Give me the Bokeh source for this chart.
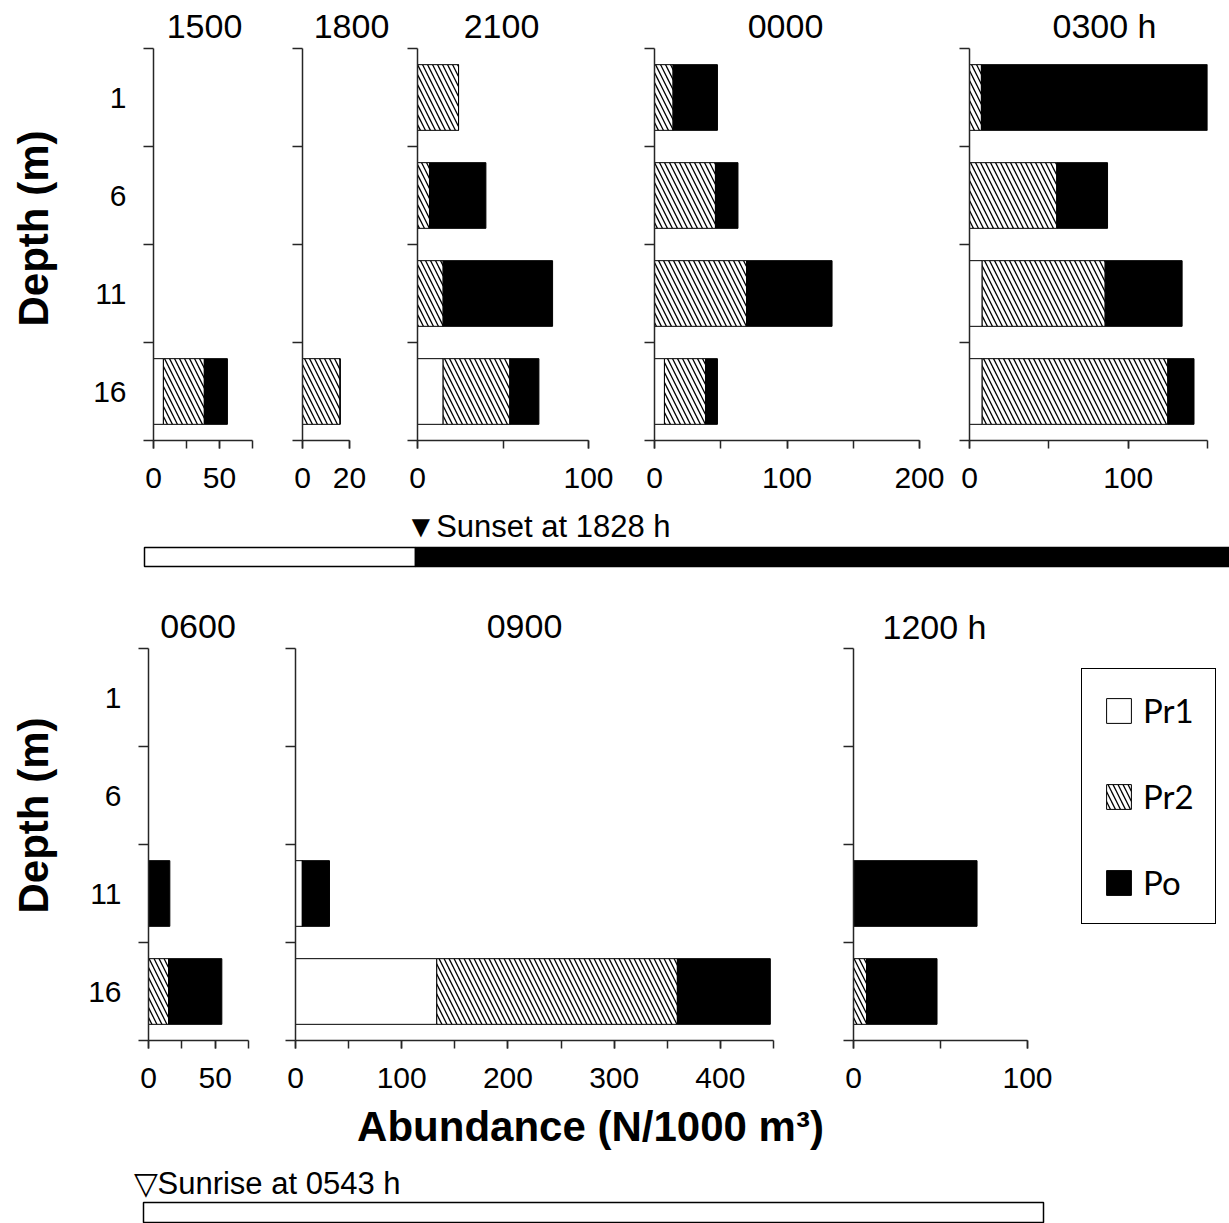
import numpy as np
from bokeh.plotting import figure
from bokeh.models import Range1d, FixedTicker, ColumnDataSource, Legend, LegendItem
from bokeh.layouts import row, column
from bokeh.embed import file_html
from bokeh.resources import INLINE
from bokeh.core.properties import value

# ---------------- data (abundance, N/1000 m^3), depth order 1, 6, 11, 16 m
depths = ["1", "6", "11", "16"]
species = ["Pr1", "Pr2", "Po"]

pr1_1500 = [0, 0, 0, 7.5]
pr2_1500 = [0, 0, 0, 31]
po_1500 = [0, 0, 0, 17.5]

pr1_1800 = [0, 0, 0, 0]
pr2_1800 = [0, 0, 0, 16]
po_1800 = [0, 0, 0, 0]

pr1_2100 = [0, 0, 0, 15]
pr2_2100 = [24, 7, 15, 39]
po_2100 = [0, 33, 64, 17]

pr1_0000 = [0, 0, 0, 7.5]
pr2_0000 = [14, 46, 69.5, 31]
po_0000 = [33.5, 17, 64.5, 9]

pr1_0300 = [0, 0, 8, 8]
pr2_0300 = [7.5, 55, 77.5, 117]
po_0300 = [142.5, 32, 48.5, 16.5]

pr1_0600 = [0, 0, 0, 0]
pr2_0600 = [0, 0, 0, 15]
po_0600 = [0, 0, 16, 40]

pr1_0900 = [0, 0, 6.5, 133]
pr2_0900 = [0, 0, 0, 226.5]
po_0900 = [0, 0, 25.5, 87.5]

pr1_1200 = [0, 0, 0, 0]
pr2_1200 = [0, 0, 0, 7.5]
po_1200 = [0, 0, 71, 40.5]

titles_top = ["1500", "1800", "2100", "0000", "0300 h"]
titles_bottom = ["0600", "0900", "1200 h"]

# labelled ticks and all tick marks per panel
xlab_1500, xtk_1500 = [0, 50], [0, 25, 50, 75]
xlab_1800, xtk_1800 = [0, 20], [0, 20]
xlab_2100, xtk_2100 = [0, 100], [0, 50, 100]
xlab_0000, xtk_0000 = [0, 100, 200], [0, 50, 100, 150, 200]
xlab_0300, xtk_0300 = [0, 100], [0, 50, 100, 150]
xlab_0600, xtk_0600 = [0, 50], [0, 25, 50, 75]
xlab_0900, xtk_0900 = [0, 100, 200, 300, 400], [0, 50, 100, 150, 200, 250, 300, 350, 400, 450]
xlab_1200, xtk_1200 = [0, 100], [0, 50, 100]

FONT = "Liberation Sans"
AX = "#262626"
W = 1229
MID = 0.34  # distance from text middle to its baseline, as a fraction of the font size

STYLE = [dict(fill_color="white"),
         dict(fill_color="white", hatch_pattern="\\", hatch_color="black", hatch_scale=10, hatch_weight=1.3),
         dict(fill_color="black")]


def strip(width, height, y0, y1, tb=0, bb=0):
    """A plain drawing area whose data coordinates are page pixels (frame spans y0..y1)."""
    p = figure(width=width, height=height, x_range=Range1d(0, width), y_range=Range1d(y1, y0),
               x_axis_type=None, y_axis_type=None, min_border=0, min_border_top=tb, min_border_bottom=bb,
               output_backend="svg", toolbar_location=None)
    p.outline_line_color = None
    return p


def put_text(p, x, y_base, text, size, bold=False, align="center", angle=0.0):
    y = y_base - MID * size if angle == 0 else y_base
    p.text(x=[x], y=[y], text=[text], angle=angle,
           text_font=value(FONT), text_font_size=f"{size}px",
           text_font_style="bold" if bold else "normal",
           text_align=align, text_baseline="middle", text_color="black")


def make_panel(pr1, pr2, po, xlab, xtk, fig_w, fig_h, lb, rb, tb, bb, first=False, frame_px=None, axis_px=None):
    xmax = xtk[-1]
    xend = xmax if frame_px is None else xmax * frame_px / axis_px
    p = figure(width=fig_w, height=fig_h, x_range=Range1d(0, xend), y_range=Range1d(4, 0),
               min_border_left=lb, min_border_right=rb, min_border_top=tb, min_border_bottom=bb,
               output_backend="svg", toolbar_location=None)
    p.xgrid.visible = False
    p.ygrid.visible = False
    p.outline_line_color = None

    yc = np.arange(4) + 0.5
    a = np.array(pr1, float)
    b = np.array(pr2, float)
    c = np.array(po, float)
    bounds = [(np.zeros(4), a), (a, a + b), (a + b, a + b + c)]
    rends = []
    for (left, right), st in zip(bounds, STYLE):
        src = ColumnDataSource(dict(y=yc, left=left, right=right))
        rends.append(p.hbar(y="y", left="left", right="right", height=0.67, source=src,
                            line_color="black", line_width=1, **st))

    xa = p.xaxis[0]
    xa.ticker = FixedTicker(ticks=xlab, minor_ticks=xtk)
    xa.bounds = (0, xmax)
    ya = p.yaxis[0]
    ya.ticker = FixedTicker(ticks=list(yc) if first else [], minor_ticks=[0, 1, 2, 3, 4])
    ya.major_label_overrides = {float(v): d for v, d in zip(yc, depths)}
    for ax in (xa, ya):
        ax.axis_line_color = AX
        ax.axis_line_width = 1.5
        ax.major_tick_line_color = AX
        ax.major_tick_line_width = 1.5
        ax.minor_tick_line_color = AX
        ax.minor_tick_line_width = 1.5
        ax.major_label_text_font = FONT
        ax.major_label_text_font_size = "30px"
        ax.major_label_text_color = "black"
        ax.major_tick_in = 0
        ax.minor_tick_in = 0
    xa.major_tick_out = 8
    xa.minor_tick_out = 8
    xa.major_label_standoff = 19
    ya.major_tick_out = 0
    ya.minor_tick_out = 10
    ya.major_label_standoff = 17
    return p, rends


# ---------------- titles above the top row (page y 0..46)
t_top = strip(W, 46, 0, 46)
for t, x in zip(titles_top, [204, 351, 501, 785, 1104]):
    put_text(t_top, x, 37.2, t, 34)

# ---------------- top row (page y 46..500, frames 48..440)
TH, TT, TB = 454, 2, 60
d_top = strip(60, TH, 48, 440, TT, TB)
put_text(d_top, 33, 228, "Depth (m)", 42, bold=True, angle=np.pi / 2)
pA, _ = make_panel(pr1_1500, pr2_1500, po_1500, xlab_1500, xtk_1500, 210, TH, 93, 18, TT, TB, first=True)
pB, _ = make_panel(pr1_1800, pr2_1800, po_1800, xlab_1800, xtk_1800, 120, TH, 32, 41, TT, TB)
pC, _ = make_panel(pr1_2100, pr2_2100, po_2100, xlab_2100, xtk_2100, 238, TH, 27, 40, TT, TB)
pD, _ = make_panel(pr1_0000, pr2_0000, po_0000, xlab_0000, xtk_0000, 316, TH, 26, 25, TT, TB)
pE, _ = make_panel(pr1_0300, pr2_0300, po_0300, xlab_0300, xtk_0300, 285, TH, 25, 22, TT, TB)

# ---------------- sunset band (page y 500..600)
mid = strip(W, 100, 500, 600)
mid.quad(left=[144, 415], right=[415, W], top=[547, 547], bottom=[566, 566],
         fill_color=["white", "black"], line_color="black", line_width=1.5)
put_text(mid, 405, 537, "\u25bcSunset at 1828 h", 31, align="left")

# ---------------- titles above the bottom row (page y 600..647)
t_bot = strip(W, 47, 600, 647)
for t, x in zip(titles_bottom, [197.5, 524, 934]):
    put_text(t_bot, x, 638, t, 34)

# ---------------- bottom row (page y 647..1098, frames 648..1040)
BH, BT, BB = 451, 1, 58
d_bot = strip(60, BH, 648, 1040, BT, BB)
put_text(d_bot, 33, 815, "Depth (m)", 42, bold=True, angle=np.pi / 2)
pF, _ = make_panel(pr1_0600, pr2_0600, po_0600, xlab_0600, xtk_0600, 210, BH, 88, 22, BT, BB, first=True)
pG, _ = make_panel(pr1_0900, pr2_0900, po_0900, xlab_0900, xtk_0900, 530, BH, 25, 27, BT, BB)
# 1200 h panel: axis spans 174 px, its frame continues to the page edge to hold the legend
pH, rH = make_panel(pr1_1200, pr2_1200, po_1200, xlab_1200, xtk_1200, 429, BH, 53, 0, BT, BB,
                    frame_px=376, axis_px=174)

legend = Legend(items=[LegendItem(label=s, renderers=[r]) for s, r in zip(species, rH)],
                location=(228, 116), border_line_color="black", border_line_width=1.5, border_line_alpha=1.0,
                background_fill_color="white", background_fill_alpha=1.0, padding=21, spacing=46,
                margin=0, glyph_width=31, glyph_height=31, label_standoff=9,
                label_text_font="Lato", label_text_font_size="33px", label_text_baseline="middle",
                label_text_color="black")
pH.add_layout(legend)

# ---------------- bottom band (page y 1098..1223)
bot = strip(W, 125, 1098, 1223)
put_text(bot, 590, 1140, "Abundance (N/1000 m\u00b3)", 42, bold=True)
put_text(bot, 133, 1194, "\u25bdSunrise at 0543 h", 31, align="left")
bot.quad(left=[143], right=[1043], top=[1202], bottom=[1222], fill_color="white",
         line_color="black", line_width=1.5)

layout = column(t_top, row(d_top, pA, pB, pC, pD, pE), mid, t_bot,
                row(d_bot, pF, pG, pH), bot)
open("out.html", "w").write(file_html(layout, INLINE))
